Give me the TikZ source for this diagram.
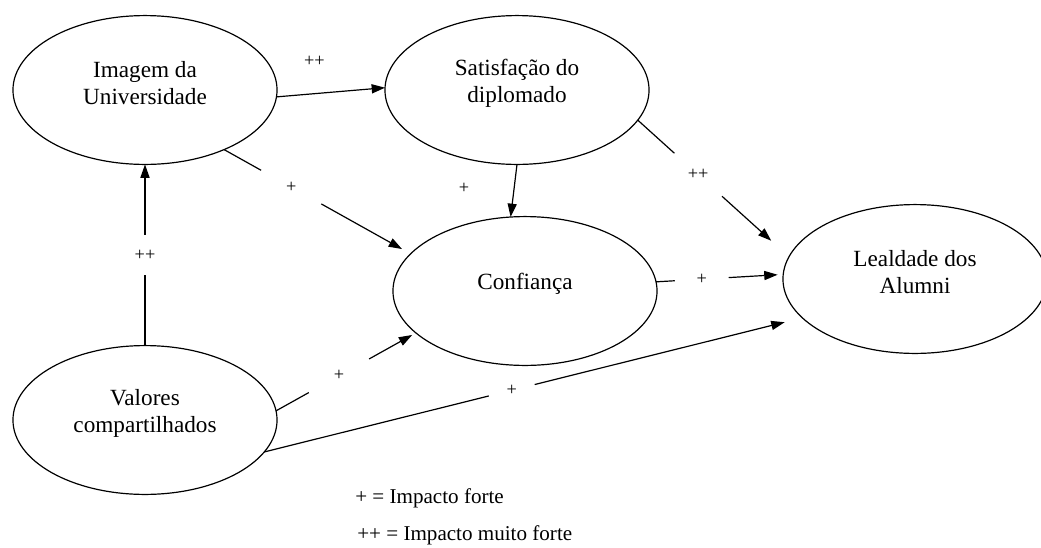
\documentclass[tikz,border=0pt]{standalone}
\usepackage{fontspec}
\setmainfont{Liberation Serif}
\usetikzlibrary{arrows.meta,shapes.geometric}

\begin{document}
\begin{tikzpicture}[x=0.025cm,y=-0.025cm,
    construto/.style={draw,ellipse,line width=0.85pt,minimum width=6.6cm,minimum height=3.72cm,inner sep=0pt,outer sep=0pt},
    rotulo/.style={align=center,font=\fontsize{16.5}{19.2}\selectfont,yshift=5pt},
    seta/.style={line width=0.85pt,-{Triangle[length=9.5pt,width=6.5pt]}},
    sinal/.style={font=\fontsize{13}{15}\selectfont,inner sep=1pt},
    corte/.style={sinal,circle,fill=white,minimum size=#1},
    legenda/.style={anchor=base west,inner sep=0pt,font=\fontsize{15}{18}\selectfont}]
  \useasboundingbox (0,0) rectangle (1041,547);
  % construtos
  \node[construto,label={[rotulo]center:Imagem da\\Universidade}] (img) at (145,90) {};
  \node[construto,label={[rotulo]center:Satisfação do\\diplomado}] (sat) at (517,90) {};
  \node[construto,label={[rotulo]center:Confiança}] (conf) at (525,291) {};
  \node[construto,label={[rotulo]center:Lealdade dos\\Alumni}] (leal) at (915,279) {};
  \node[construto,label={[rotulo]center:Valores\\compartilhados}] (val) at (145,420) {};
  % setas inteiras
  \draw[seta] (img.-3) -- node[sinal,pos=.35,yshift=.82cm] {++} (sat.179);
  \draw[seta] (sat.south) -- node[sinal,pos=.45,xshift=-1.25cm] {+} (conf.101);
  % setas cortadas pelo sinal
  \foreach \de/\para/\p/\g/\s/\lab in {val.north/img.south/.5/1cm/0pt/++,
      img.-37/conf.162/.36/1.72cm/7pt/+, sat.-14/leal.170/.4/1.6cm/17pt/++,
      conf.4/leal.178/.36/1.35cm/4pt/+, val.4/conf.-159/.45/1.72cm/3pt/+,
      val.-15/leal.-161/.46/1.18cm/13pt/+} {
    \draw[seta,shorten >=\s] (\de) -- node[corte=\g,pos=\p] {\lab} (\para);
  }
  % legenda
  \node[legenda] (leg1) at (355,503) {+ = Impacto forte};
  \node[legenda] (leg2) at (357,540) {++ = Impacto muito forte};
\end{tikzpicture}
\end{document}
